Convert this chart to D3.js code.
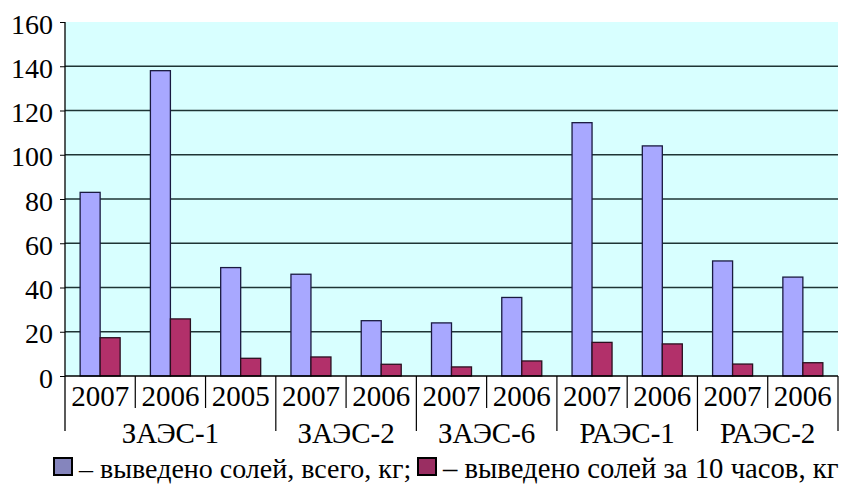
<!DOCTYPE html>
<html><head><meta charset="utf-8">
<script src="https://cdn.jsdelivr.net/npm/d3@7/dist/d3.min.js"></script>
</head><body style="margin:0;background:#fff">
<script>
const years = ["2007","2006","2005","2007","2006","2007","2006","2007","2006","2007","2006"];
const groups = ["ЗАЭС-1","ЗАЭС-2","ЗАЭС-6","РАЭС-1","РАЭС-2"];
const groupSizes = [3,2,2,2,2];
const totalSalts = [83,138,49,46,25,24,35.5,114.5,104,52,44.7];
const salts10h = [17.3,25.8,8,8.6,5.3,4.1,6.8,15.2,14.5,5.4,6];
const yTicks = [0,20,40,60,80,100,120,140,160];
const legendLabels = ["– выведено солей, всего, кг;","– выведено солей за 10 часов, кг"];

const FF='"Liberation Serif", "Times New Roman", Tinos';
const W=841,H=491, L=65, R=838, T=22, B=376;
const svg=d3.select("body").append("svg").attr("width",W).attr("height",H).style("display","block")
  .attr("font-family",FF).style("font-family",FF);
const idx=d3.range(years.length);
const x=d3.scaleBand().domain(idx).range([L,R]).paddingInner(0).paddingOuter(0);
const y=d3.scaleLinear().domain([0,160]).range([B,T]);
const bw=20, off=(x.bandwidth()-2*bw)/2;

function txt(sel,size){ return sel.attr("font-family",FF).style("font-family",FF).style("font-size",size+"px").attr("fill","#000"); }

svg.append("rect").attr("x",L).attr("y",T).attr("width",R-L).attr("height",B-T).attr("fill","#d8ffff");
svg.append("g").selectAll("line").data(yTicks.filter(d=>d>0&&d<160)).join("line")
  .attr("x1",L).attr("x2",R).attr("y1",d=>y(d)).attr("y2",d=>y(d)).attr("stroke","#1e3434").attr("stroke-width",1.6);

svg.append("g").selectAll("rect").data(idx).join("rect")
  .attr("x",i=>x(i)+off).attr("width",bw).attr("y",i=>y(totalSalts[i])).attr("height",i=>B-y(totalSalts[i]))
  .attr("fill","#a8a8ff").attr("stroke","#1a1a40").attr("stroke-width",1.3);
svg.append("g").selectAll("rect").data(idx).join("rect")
  .attr("x",i=>x(i)+off+bw).attr("width",bw).attr("y",i=>y(salts10h[i])).attr("height",i=>B-y(salts10h[i]))
  .attr("fill","#b2306a").attr("stroke","#2a1020").attr("stroke-width",1.3);

// y axis
const ya=svg.append("g").attr("transform",`translate(${L},0)`).call(d3.axisLeft(y).tickValues(yTicks).tickSize(5).tickPadding(7));
ya.attr("font-family",FF).attr("font-size",28);
ya.select(".domain").remove();
ya.selectAll("line").attr("stroke","#000");
txt(ya.selectAll("text"),28).attr("dy","0.4em");
svg.append("line").attr("x1",L).attr("x2",L).attr("y1",T).attr("y2",431).attr("stroke","#000").attr("stroke-width",1.3);
svg.append("line").attr("x1",L).attr("x2",R).attr("y1",B).attr("y2",B).attr("stroke","#000").attr("stroke-width",1.5);

// year labels
txt(svg.append("g").selectAll("text").data(idx).join("text")
  .attr("x",i=>x(i)+x.bandwidth()/2).attr("y",406).attr("text-anchor","middle"),29).text(i=>years[i]);
// separators
let starts=[0]; groupSizes.forEach((s,k)=>starts.push(starts[k]+s));
const groupBounds=new Set(starts);
svg.append("g").selectAll("line").data(d3.range(1,years.length+1)).join("line")
  .attr("x1",i=>i<years.length?x(i):R).attr("x2",i=>i<years.length?x(i):R)
  .attr("y1",B).attr("y2",i=>groupBounds.has(i)?431:408).attr("stroke","#000").attr("stroke-width",1.2);
// group labels
txt(svg.append("g").selectAll("text").data(groups).join("text")
  .attr("x",(g,k)=>(x(starts[k])+(starts[k+1]<years.length?x(starts[k+1]):R))/2).attr("y",443)
  .attr("text-anchor","middle"),29).text(d=>d);

// legend
const lg=svg.append("g");
lg.append("rect").attr("x",54).attr("y",458).attr("width",18).attr("height",17).attr("fill","#8585bd").attr("stroke","#000").attr("stroke-width",2);
txt(lg.append("text").attr("x",79).attr("y",478),28).text(legendLabels[0]);
lg.append("rect").attr("x",418).attr("y",458).attr("width",18).attr("height",17).attr("fill","#9a2e62").attr("stroke","#000").attr("stroke-width",2);
txt(lg.append("text").attr("x",443).attr("y",478),28.7).text(legendLabels[1]);
</script>
</body></html>
